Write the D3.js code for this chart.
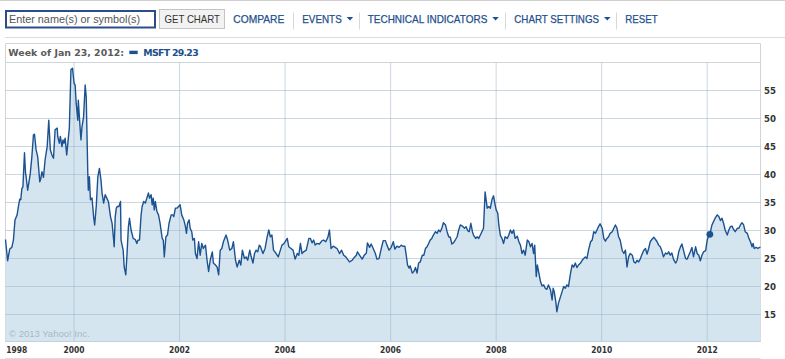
<!DOCTYPE html>
<html><head><meta charset="utf-8">
<script src="https://cdn.jsdelivr.net/npm/d3@7"></script>
<style>
body{margin:0;background:#fff;overflow:hidden}
svg{display:block}
</style>
</head><body>
<svg id="chart" width="785" height="359"></svg>
<script>
// ---------- data (weekly MSFT close) ----------
const years = [
1998.71,1998.75,1998.79,1998.83,1998.86,1998.89,1998.93,1998.96,1998.98,1999.00,
1999.02,1999.04,1999.07,1999.09,1999.10,1999.13,1999.15,1999.18,1999.21,1999.24,
1999.26,1999.29,1999.32,1999.36,1999.38,1999.40,1999.43,1999.46,1999.50,1999.53,
1999.56,1999.59,1999.62,1999.65,1999.69,1999.70,1999.73,1999.75,1999.78,1999.80,
1999.82,1999.84,1999.87,1999.91,1999.92,1999.95,1999.98,1999.99,2000.01,2000.03,
2000.05,2000.08,2000.09,2000.11,2000.14,2000.16,2000.19,2000.22,2000.24,2000.25,
2000.27,2000.28,2000.30,2000.32,2000.35,2000.38,2000.40,2000.43,2000.46,2000.49,
2000.52,2000.54,2000.57,2000.60,2000.63,2000.66,2000.70,2000.73,2000.76,2000.77,
2000.79,2000.81,2000.83,2000.86,2000.89,2000.90,2000.94,2000.96,2000.99,2001.01,
2001.04,2001.06,2001.09,2001.13,2001.17,2001.20,2001.22,2001.25,2001.28,2001.30,
2001.33,2001.36,2001.39,2001.42,2001.44,2001.47,2001.49,2001.51,2001.53,2001.55,
2001.58,2001.61,2001.64,2001.68,2001.70,2001.72,2001.75,2001.78,2001.81,2001.85,
2001.88,2001.90,2001.93,2001.96,2001.99,2002.02,2002.05,2002.09,2002.12,2002.14,
2002.16,2002.19,2002.21,2002.24,2002.26,2002.29,2002.31,2002.34,2002.37,2002.40,
2002.43,2002.46,2002.50,2002.53,2002.56,2002.59,2002.63,2002.65,2002.69,2002.72,
2002.75,2002.78,2002.81,2002.84,2002.89,2002.92,2002.96,2003.00,2003.03,2003.07,
2003.10,2003.14,2003.17,2003.20,2003.24,2003.27,2003.30,2003.34,2003.36,2003.40,
2003.43,2003.46,2003.49,2003.52,2003.54,2003.59,2003.63,2003.67,2003.70,2003.73,
2003.76,2003.79,2003.84,2003.88,2003.92,2003.95,2003.99,2004.05,2004.08,2004.12,
2004.16,2004.20,2004.24,2004.27,2004.30,2004.33,2004.36,2004.41,2004.46,2004.49,
2004.52,2004.55,2004.58,2004.61,2004.66,2004.71,2004.74,2004.78,2004.82,2004.85,
2004.88,2004.92,2004.96,2005.00,2005.04,2005.08,2005.12,2005.16,2005.19,2005.23,
2005.28,2005.32,2005.36,2005.38,2005.42,2005.47,2005.51,2005.55,2005.57,2005.61,
2005.64,2005.68,2005.72,2005.75,2005.79,2005.83,2005.87,2005.91,2005.94,2005.98,
2006.02,2006.06,2006.09,2006.13,2006.17,2006.21,2006.24,2006.28,2006.31,2006.33,
2006.36,2006.38,2006.42,2006.45,2006.48,2006.51,2006.54,2006.57,2006.61,2006.64,
2006.67,2006.70,2006.73,2006.76,2006.79,2006.82,2006.86,2006.89,2006.92,2006.95,
2006.98,2007.01,2007.05,2007.08,2007.11,2007.14,2007.17,2007.20,2007.24,2007.27,
2007.30,2007.33,2007.37,2007.41,2007.44,2007.47,2007.50,2007.53,2007.56,2007.58,
2007.62,2007.65,2007.68,2007.71,2007.74,2007.77,2007.80,2007.84,2007.87,2007.90,
2007.93,2007.96,2007.99,2008.01,2008.04,2008.06,2008.09,2008.12,2008.15,2008.18,
2008.22,2008.25,2008.28,2008.31,2008.34,2008.37,2008.41,2008.44,2008.47,2008.50,
2008.53,2008.56,2008.60,2008.63,2008.66,2008.69,2008.72,2008.74,2008.77,2008.79,
2008.82,2008.85,2008.88,2008.91,2008.94,2008.97,2009.00,2009.04,2009.07,2009.09,
2009.11,2009.14,2009.16,2009.19,2009.23,2009.26,2009.29,2009.32,2009.35,2009.38,
2009.42,2009.45,2009.48,2009.51,2009.54,2009.57,2009.61,2009.64,2009.67,2009.70,
2009.73,2009.76,2009.80,2009.83,2009.86,2009.89,2009.92,2009.95,2009.98,2010.02,
2010.05,2010.08,2010.11,2010.14,2010.17,2010.21,2010.24,2010.27,2010.30,2010.33,
2010.36,2010.40,2010.43,2010.46,2010.49,2010.52,2010.55,2010.59,2010.62,2010.65,
2010.68,2010.71,2010.74,2010.78,2010.81,2010.84,2010.87,2010.90,2010.93,2010.96,
2011.00,2011.03,2011.06,2011.09,2011.12,2011.15,2011.18,2011.22,2011.25,2011.28,
2011.31,2011.34,2011.37,2011.41,2011.44,2011.47,2011.50,2011.53,2011.56,2011.60,
2011.63,2011.66,2011.69,2011.72,2011.75,2011.79,2011.82,2011.85,2011.88,2011.91,
2011.94,2011.98,2012.01,2012.04,2012.06,2012.10,2012.13,2012.16,2012.20,2012.23,
2012.26,2012.29,2012.32,2012.35,2012.39,2012.42,2012.45,2012.48,2012.51,2012.54,
2012.58,2012.61,2012.64,2012.67,2012.70,2012.73,2012.77,2012.80,2012.83,2012.86,
2012.88,2012.90,2012.94,2012.97,2013.00,2013.02
];
const prices = [
28.3,24.5,26.6,26.9,28.2,31.8,32.7,34.5,35.5,35.4,
37.4,37.7,43.8,40.1,39.6,37.1,38.3,40.1,43.1,47.0,
47.1,44.3,43.1,38.6,39.2,40.4,39.4,42.5,44.9,49.6,
44.3,43.4,42.8,47.9,48.2,46.7,45.5,46.7,44.9,46.1,
45.5,46.4,43.4,47.3,48.2,58.6,58.9,58.0,56.2,55.9,
52.6,49.6,53.2,50.2,46.1,48.4,50.2,55.9,53.8,49.1,
40.1,37.1,39.5,35.4,35.7,32.4,30.9,34.2,39.5,41.0,
38.9,36.6,34.8,36.3,35.7,35.1,32.4,31.2,28.2,27.0,
32.4,33.9,34.2,34.2,35.1,28.2,26.4,23.4,22.0,25.2,
30.6,32.1,30.0,28.5,28.3,27.6,28.2,28.2,32.7,34.2,
35.1,34.8,35.7,36.6,35.7,36.3,34.5,35.7,33.6,35.1,
33.3,32.7,31.2,28.5,28.2,25.2,28.8,29.1,31.2,32.7,
32.7,32.4,33.9,33.9,34.2,34.5,32.7,31.8,30.6,29.4,
31.2,31.8,30.3,29.7,28.2,28.5,25.8,24.9,27.9,25.5,
27.6,26.7,27.3,24.6,22.6,24.6,26.1,24.1,23.75,23.4,
22.0,26.4,26.7,27.9,29.1,28.2,26.4,26.7,27.9,24.6,
23.4,24.6,23.75,26.4,24.9,25.2,24.6,26.4,25.5,24.1,
25.8,26.4,26.1,27.3,27.1,25.8,26.7,28.8,30.0,28.8,
29.1,26.4,25.8,25.2,26.4,27.3,27.6,28.5,27.0,26.7,
26.4,24.8,25.8,25.5,27.6,25.8,26.1,26.4,28.5,28.5,
27.7,28.2,27.3,27.6,27.5,28.1,28.2,27.9,28.7,30.0,
26.7,27.1,26.9,26.6,25.8,26.4,25.5,25.2,24.8,24.3,
24.6,25.1,25.5,26.1,25.5,24.8,25.5,25.9,27.7,26.9,
27.5,26.7,25.8,24.8,24.9,26.6,28.1,28.1,27.3,26.4,
26.9,27.9,26.6,27.1,26.9,27.3,27.1,27.1,25.2,23.75,
23.2,23.6,22.3,22.6,23.3,22.3,24.1,24.3,25.5,25.5,
26.7,27.0,27.6,28.2,28.5,29.1,29.7,29.4,30.0,29.7,
30.3,31.3,30.9,29.7,28.8,28.7,27.5,27.7,28.3,28.8,
30.0,30.9,30.7,30.3,30.6,29.9,29.7,31.2,29.7,29.1,
28.5,28.8,28.5,29.1,29.7,30.3,36.8,33.9,34.2,33.9,
35.4,36.1,34.5,33.6,33.0,30.9,29.0,28.5,27.6,28.8,
28.5,29.1,30.0,29.4,30.0,28.5,28.9,27.9,27.3,25.8,
26.4,25.5,28.2,27.9,27.0,27.6,25.8,27.3,21.7,23.75,
22.3,20.8,20.0,20.2,19.6,19.4,20.2,19.3,17.5,19.6,
19.0,17.2,15.4,16.9,18.1,19.0,19.9,19.6,20.2,19.9,
22.3,23.75,23.4,24.1,23.3,23.75,24.1,24.6,24.9,25.2,
24.9,26.4,27.9,28.2,29.7,29.4,30.0,30.6,31.1,30.3,
28.5,28.0,28.5,28.8,29.4,29.7,30.3,30.9,30.3,28.8,
28.2,26.3,25.8,26.4,23.4,25.2,25.8,25.5,24.3,24.1,
24.6,24.3,24.8,25.8,26.4,26.7,25.7,26.7,27.9,28.3,
28.7,28.3,27.9,27.3,27.0,26.3,25.2,25.9,25.7,26.1,
25.5,25.9,24.8,24.1,24.6,26.1,26.9,27.5,26.4,24.9,
24.8,25.5,26.1,26.9,25.2,27.0,25.8,25.5,24.5,25.5,
26.1,26.3,28.2,29.1,29.23,30.9,31.5,32.1,32.7,32.4,
31.7,32.1,31.2,30.0,29.1,30.0,30.6,30.7,30.1,29.7,
30.3,30.3,30.9,31.3,30.9,29.7,29.4,28.5,27.9,27.0,
27.6,26.7,26.9,26.7,26.9,26.9
];
const yTicks = [15, 20, 25, 30, 35, 40, 45, 50, 55];
const xTickYears = [2000, 2002, 2004, 2006, 2008, 2010, 2012];
const firstYearLabel = "1998";
const navItems = ["COMPARE", "EVENTS", "TECHNICAL INDICATORS", "CHART SETTINGS", "RESET"];
const navHasArrow = [false, true, true, true, false];
const legendDate = "Week of Jan 23, 2012:";
const legendSymbol = "MSFT";
const markerYear = 2012.06;
const markerValue = 29.23;

// ---------- layout ----------
const svg = d3.select("#chart");
const L = 5.5, R = 760.5, T = 62, B = 342;
const x = d3.scaleLinear().domain([years[0], years[years.length - 1]]).range([L, R]);
const y = d3.scaleLinear().domain([10, 60]).range([B, T]);
const blue = "#1c5290", navBlue = "#1e4f8c";

// toolbar
svg.append("line").attr("x1", 0).attr("x2", 785).attr("y1", 0.5).attr("y2", 0.5).attr("stroke", "#cfcfcf");
svg.append("line").attr("x1", 5).attr("x2", 785).attr("y1", 37.5).attr("y2", 37.5).attr("stroke", "#dcdcdc");
svg.append("rect").attr("x", 6).attr("y", 11).attr("width", 149).attr("height", 16.5)
  .attr("fill", "#fff").attr("stroke", "#2c4c8c").attr("stroke-width", 2);
svg.append("text").attr("x", 9).attr("y", 23.3).text("Enter name(s) or symbol(s)")
  .attr("font-family", "Liberation Sans, Arial, sans-serif").attr("font-size", 11.5)
  .attr("fill", "#555").attr("textLength", 131).attr("lengthAdjust", "spacingAndGlyphs");
svg.append("rect").attr("x", 159.5).attr("y", 9.5).attr("width", 65).attr("height", 19)
  .attr("fill", "#f2f2f2").attr("stroke", "#c4c4c4");
svg.append("text").attr("x", 164.5).attr("y", 23.3).text("GET CHART")
  .attr("font-family", "Liberation Sans, Arial, sans-serif").attr("font-size", 11)
  .attr("fill", "#333").attr("textLength", 55.5).attr("lengthAdjust", "spacingAndGlyphs");

const navX = [233.3, 302.3, 367.7, 514.3, 625.3];
const navW = [51, 39.4, 119.6, 84.7, 32.4];
const sepX = [293.5, 359.5, 505.5, 616.5];
navItems.forEach((t, i) => {
  svg.append("text").attr("x", navX[i]).attr("y", 23.3).text(t)
    .attr("font-family", "Liberation Sans, Arial, sans-serif").attr("font-size", 11)
    .attr("fill", navBlue).attr("stroke", navBlue).attr("stroke-width", 0.25)
    .attr("textLength", navW[i]).attr("lengthAdjust", "spacingAndGlyphs");
  if (navHasArrow[i]) {
    const ax = navX[i] + navW[i] + 5;
    svg.append("path").attr("d", `M${ax},17 L${ax + 6.5},17 L${ax + 3.25},20.6 Z`).attr("fill", navBlue);
  }
});
sepX.forEach(sx => svg.append("line").attr("x1", sx).attr("x2", sx).attr("y1", 12.5).attr("y2", 29.5).attr("stroke", "#d8d8d8"));

// chart frame
svg.append("path").attr("d", `M${L},${B} L${L},43.5 L${R},43.5 L${R},${B}`).attr("fill", "none").attr("stroke", "#d4d4d4");
svg.append("line").attr("x1", L).attr("x2", R).attr("y1", T + 0.5).attr("y2", T + 0.5).attr("stroke", "#cfd6dc");

// legend
svg.append("text").attr("x", 8.3).attr("y", 56).text(legendDate)
  .attr("font-family", "DejaVu Sans, Verdana, sans-serif").attr("font-weight", "bold").attr("font-size", 9.4)
  .attr("fill", "#5a5a5a").attr("textLength", 115.7);
svg.append("rect").attr("x", 129.3).attr("y", 50.7).attr("width", 8.4).attr("height", 3.4).attr("fill", blue);
svg.append("text").attr("x", 143.3).attr("y", 56).text(`${legendSymbol} ${markerValue.toFixed(2)}`)
  .attr("font-family", "DejaVu Sans, Verdana, sans-serif").attr("font-weight", "bold").attr("font-size", 9.4)
  .attr("fill", navBlue).attr("textLength", 55.4);

// plot
const data = years.map((t, i) => ({t, v: prices[i]}));
const plot = svg.append("g");
plot.append("path").datum(data)
  .attr("d", d3.area().x(d => x(d.t)).y0(B).y1(d => y(d.v)))
  .attr("fill", "#d5e5f0");

// grid lines
const gridY = d3.axisLeft(y).tickValues(yTicks).tickSize(-(R - L)).tickFormat("");
plot.append("g").attr("transform", `translate(${L},0)`).call(gridY)
  .call(g => g.select(".domain").remove())
  .call(g => g.selectAll("line").attr("stroke", "#9cb2c6").attr("stroke-opacity", 0.52));
const gridX = d3.axisTop(x).tickValues(xTickYears).tickSize(-(B - T - 0.5)).tickFormat("");
plot.append("g").attr("transform", `translate(0,${T + 0.5})`).call(gridX)
  .call(g => g.select(".domain").remove())
  .call(g => g.selectAll("line").attr("stroke", "#9cb2c6").attr("stroke-opacity", 0.52));

// bottom edge of plot
svg.append("line").attr("x1", L).attr("x2", R).attr("y1", B - 0.5).attr("y2", B - 0.5).attr("stroke", "#bfd2e2");

// copyright
svg.append("text").attr("x", 9).attr("y", 336.5).text("\u00a9 2013 Yahoo! Inc.")
  .attr("font-family", "Liberation Sans, Arial, sans-serif").attr("font-size", 9.5).attr("fill", "#aab8c4");

// price line
plot.append("path").datum(data)
  .attr("d", d3.line().x(d => x(d.t)).y(d => y(d.v)))
  .attr("fill", "none").attr("stroke", blue).attr("stroke-width", 1.4).attr("stroke-linejoin", "round");

// marker
plot.append("circle").attr("cx", x(markerYear)).attr("cy", y(markerValue)).attr("r", 3.4).attr("fill", blue);

// right axis labels
const axisFont = "DejaVu Sans, Verdana, sans-serif";
const yAxis = d3.axisRight(y).tickValues(yTicks).tickSize(0).tickPadding(0);
svg.append("g").attr("transform", `translate(${R + 3.5},0)`).call(yAxis)
  .call(g => g.select(".domain").remove())
  .call(g => g.selectAll("text").attr("font-family", axisFont).attr("font-weight", "bold")
    .attr("font-size", 8.4).attr("fill", "#333").attr("dy", "0.36em")
    .attr("textLength", 12).attr("lengthAdjust", "spacingAndGlyphs"));

// bottom axis labels
const xAxis = d3.axisBottom(x).tickValues(xTickYears).tickSize(0).tickPadding(0).tickFormat(d3.format("d"));
svg.append("g").attr("transform", `translate(0,${B})`).call(xAxis)
  .call(g => g.select(".domain").remove())
  .call(g => g.selectAll("text").attr("font-family", axisFont).attr("font-weight", "bold")
    .attr("font-size", 8.4).attr("fill", "#333").attr("y", 11.3).attr("dy", 0)
    .attr("textLength", 21).attr("lengthAdjust", "spacingAndGlyphs"));
svg.append("text").attr("x", 6.3).attr("y", B + 11.3).text(firstYearLabel)
  .attr("font-family", axisFont).attr("font-weight", "bold").attr("font-size", 8.4).attr("fill", "#333")
  .attr("textLength", 21).attr("lengthAdjust", "spacingAndGlyphs");

// bottom rule
svg.append("line").attr("x1", 5).attr("x2", R).attr("y1", 358.5).attr("y2", 358.5).attr("stroke", "#dcdcdc");
</script>
</body></html>
